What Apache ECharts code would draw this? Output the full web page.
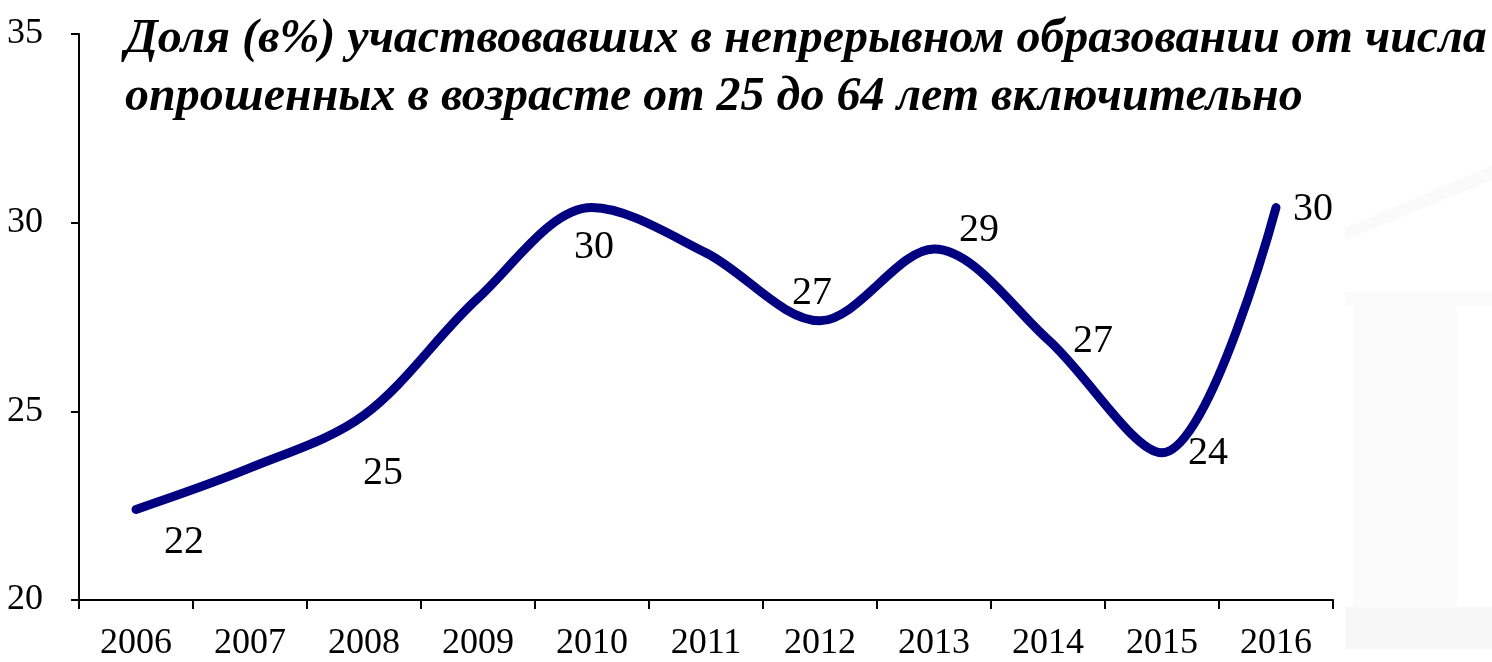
<!DOCTYPE html>
<html>
<head>
<meta charset="utf-8">
<script src="https://cdn.jsdelivr.net/npm/echarts@6/dist/echarts.min.js"></script>
<style>
  html, body { margin: 0; padding: 0; background: #fff; }
  #chart { width: 1492px; height: 662px; }
</style>
</head>
<body>
<div id="chart"></div>
<script>
// годы и доля участвовавших (%)
const years = ['2006', '2007', '2008', '2009', '2010', '2011', '2012', '2013', '2014', '2015', '2016'];
const shares = [22.4, 23.5, 24.9, 28.0, 30.4, 29.2, 27.4, 29.3, 26.9, 23.9, 30.4];
// подписи есть не у всех точек
const labelled = [true, false, true, false, true, false, true, true, true, true, true];

const serif = '"Liberation Serif", "DejaVu Serif", serif';

// смещения подписей относительно точек (как в исходной картинке)
const labelOffsets = {
  0: [48, 33],
  2: [19, 58],
  4: [2, 40],
  6: [-8, -27],
  7: [45, -19],
  8: [45, 2],
  9: [46, 1],
  10: [37, 2]
};

let chart = echarts.init(document.getElementById('chart'));

let seriesData = shares.map((v, i) => ({
  value: v,
  label: labelled[i] ? {
    show: true,
    position: 'inside',
    offset: labelOffsets[i],
    formatter: (p) => Math.round(p.value)
  } : { show: false }
}));

let option = {
  animation: false,
  backgroundColor: '#fff',
  textStyle: { fontFamily: serif },
  title: {
    text: 'Доля (в%) участвовавших в непрерывном образовании от числа\nопрошенных в возрасте от 25 до 64 лет включительно',
    left: 120,
    top: 6,
    textStyle: {
      fontFamily: serif,
      fontSize: 48,
      fontWeight: 'bold',
      fontStyle: 'italic',
      color: '#000',
      lineHeight: 58
    }
  },
  // бледная колонна на фоне справа
  graphic: [
    { type: 'polygon', z: -10, shape: { points: [[1345, 228], [1492, 165], [1492, 180], [1345, 240]] }, style: { fill: '#fafafa' } },
    { type: 'rect', z: -10, shape: { x: 1345, y: 292, width: 147, height: 14 }, style: { fill: '#fbfbfb' } },
    { type: 'rect', z: -10, shape: { x: 1353, y: 300, width: 104, height: 307 }, style: { fill: '#fbfbfb' } },
    { type: 'rect', z: -10, shape: { x: 1345, y: 607, width: 147, height: 42 }, style: { fill: '#f7f7f7' } }
  ],
  grid: {
    left: 79,
    top: 34,
    width: 1254,
    height: 567
  },
  xAxis: {
    type: 'category',
    data: years,
    boundaryGap: true,
    axisLine: { lineStyle: { color: '#000', width: 2 } },
    axisTick: { show: true, alignWithLabel: false, length: 9, lineStyle: { color: '#000', width: 2 } },
    axisLabel: { color: '#000', fontSize: 36, fontFamily: serif, margin: 26 },
    splitLine: { show: false }
  },
  yAxis: {
    type: 'value',
    min: 20,
    max: 35,
    interval: 5,
    axisLine: { show: true, lineStyle: { color: '#000', width: 2 } },
    axisTick: { show: true, length: 8, lineStyle: { color: '#000', width: 2 } },
    axisLabel: { color: '#000', fontSize: 36, fontFamily: serif, margin: 36 },
    splitLine: { show: false }
  },
  series: [
    {
      name: 'Доля',
      type: 'line',
      data: seriesData,
      smooth: 0.33,
      symbol: 'circle',
      symbolSize: 1,
      itemStyle: { color: 'rgba(0,0,0,0)' },
      lineStyle: { color: '#000080', width: 9, cap: 'round', join: 'round' },
      label: {
        color: '#000',
        fontSize: 40,
        fontFamily: serif
      }
    }
  ]
};
chart.setOption(option);
</script>
</body>
</html>
